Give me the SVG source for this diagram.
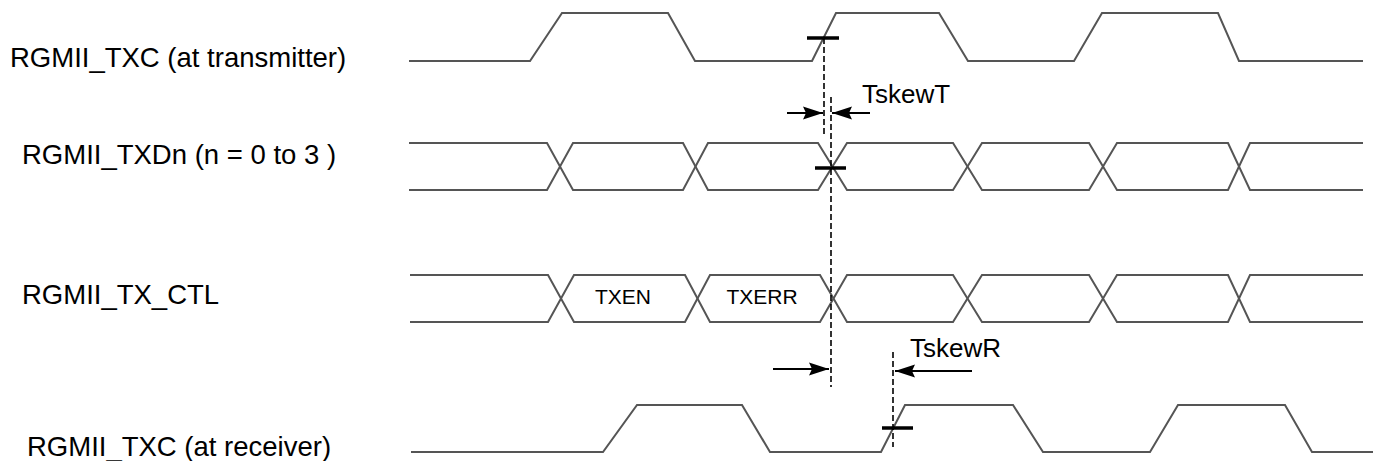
<svg xmlns="http://www.w3.org/2000/svg" width="1377" height="461" viewBox="0 0 1377 461">
<style>
.lbl{font-family:"Liberation Sans",Arial,sans-serif;font-size:27.5px;fill:#000}
.sm{font-family:"Liberation Sans",Arial,sans-serif;font-size:21px;fill:#000;text-anchor:middle}
.sk{font-family:"Liberation Sans",Arial,sans-serif;font-size:26px;fill:#000}
.wave{fill:none;stroke:#555;stroke-width:2;stroke-linejoin:miter}
.dash{fill:none;stroke:#000;stroke-width:1.6;stroke-dasharray:6,3}
.tick{stroke:#000;stroke-width:3.5}
.arr{stroke:#000;stroke-width:1.8;marker-end:url(#ah)}
</style>
<defs>
<marker id="ah" viewBox="0 0 20 14" refX="20" refY="7" markerWidth="20" markerHeight="14" markerUnits="userSpaceOnUse" orient="auto">
<path d="M0,0.5 L20,7 L0,13.5 L3,7 Z" fill="#000"/>
</marker>
</defs>
<g id="txc-tx">
<text class="lbl" x="10" y="67">RGMII_TXC (at transmitter)</text>
<path class="wave" d="M409,61 H530 L562,13 H668 L695,61 H812 L836,13 H939 L968,61 H1074 L1102,13 H1218 L1239,61 H1363"/>
</g>
<g id="txd">
<text class="lbl" x="22" y="164">RGMII_TXDn (n = 0 to 3 )</text>
<path class="wave" d="M409,143 H547 L573,190 H683 L708,143 H818 L847,190 H953 L982,143 H1089 L1117,190 H1228 L1250,143 H1363"/>
<path class="wave" d="M409,190 H547 L573,143 H683 L708,190 H818 L847,143 H953 L982,190 H1089 L1117,143 H1228 L1250,190 H1363"/>
</g>
<g id="txctl">
<text class="lbl" x="22" y="304">RGMII_TX_CTL</text>
<path class="wave" d="M410,275 H548 L574,322 H685 L710,275 H820 L847,322 H953 L982,275 H1089 L1117,322 H1228 L1250,275 H1363"/>
<path class="wave" d="M410,322 H548 L574,275 H685 L710,322 H820 L847,275 H953 L982,322 H1089 L1117,275 H1228 L1250,322 H1363"/>
<text class="sm" x="623" y="304">TXEN</text>
<text class="sm" x="762" y="304">TXERR</text>
</g>
<g id="txc-rx">
<text class="lbl" x="27" y="456">RGMII_TXC (at receiver)</text>
<path class="wave" d="M411,452 H603 L637,405 H742 L770,452 H881 L905,405 H1013 L1043,452 H1150 L1178,405 H1285 L1312,452 H1373"/>
</g>
<g id="connectors">
<line class="dash" x1="824" y1="38" x2="824" y2="136"/>
<line class="dash" x1="831" y1="97" x2="831" y2="387"/>
<line class="dash" x1="893" y1="352" x2="893" y2="447"/>
<line class="tick" x1="807" y1="38" x2="839" y2="38"/>
<line class="tick" x1="815" y1="168" x2="846" y2="168"/>
<line class="tick" x1="882" y1="428" x2="913" y2="428"/>
<line class="arr" x1="787" y1="113" x2="823" y2="113"/>
<line class="arr" x1="870" y1="113" x2="832" y2="113"/>
<line class="arr" x1="773" y1="369" x2="829" y2="369"/>
<line class="arr" x1="972" y1="371" x2="895" y2="371"/>
</g>
<g id="skew-labels">
<text class="sk" x="862" y="103">TskewT</text>
<text class="sk" x="910" y="357">TskewR</text>
</g>
</svg>
